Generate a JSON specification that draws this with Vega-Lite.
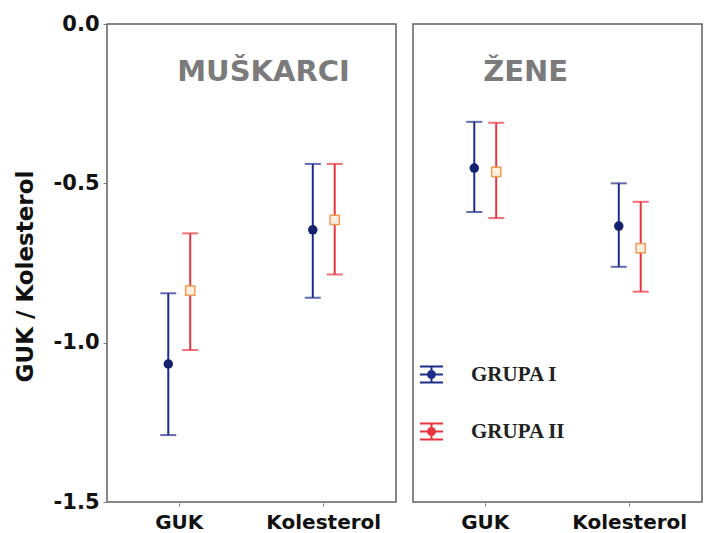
{
  "$schema": "https://vega.github.io/schema/vega-lite/v6.json",
  "padding": {"left": 14, "top": 13, "right": 0, "bottom": 0},
  "background": "white",
  "data": {"values": [
    {"sex": "MUŠKARCI", "cat": "GUK", "group": "GRUPA I", "mean": -1.067, "lo": -1.29, "hi": -0.845},
    {"sex": "MUŠKARCI", "cat": "GUK", "group": "GRUPA II", "mean": -0.837, "lo": -1.023, "hi": -0.657},
    {"sex": "MUŠKARCI", "cat": "Kolesterol", "group": "GRUPA I", "mean": -0.646, "lo": -0.859, "hi": -0.439},
    {"sex": "MUŠKARCI", "cat": "Kolesterol", "group": "GRUPA II", "mean": -0.615, "lo": -0.786, "hi": -0.439},
    {"sex": "ŽENE", "cat": "GUK", "group": "GRUPA I", "mean": -0.452, "lo": -0.59, "hi": -0.307},
    {"sex": "ŽENE", "cat": "GUK", "group": "GRUPA II", "mean": -0.464, "lo": -0.609, "hi": -0.31},
    {"sex": "ŽENE", "cat": "Kolesterol", "group": "GRUPA I", "mean": -0.634, "lo": -0.762, "hi": -0.5},
    {"sex": "ŽENE", "cat": "Kolesterol", "group": "GRUPA II", "mean": -0.703, "lo": -0.84, "hi": -0.558}
  ]},
  "facet": {"column": {"field": "sex", "type": "nominal", "sort": ["MUŠKARCI", "ŽENE"], "header": {"title": null, "labels": false}}},
  "spacing": 15,
  "spec": {
    "width": 289,
    "height": 478,
    "encoding": {
      "x": {"field": "cat", "type": "nominal", "sort": ["GUK", "Kolesterol"],
        "scale": {"type": "band", "paddingInner": 0.6966, "paddingOuter": 0.3483},
        "axis": {"title": null, "labelAngle": 0, "labelFont": "DejaVu Sans", "labelFontWeight": "bold", "labelFontSize": 20, "labelColor": "#111", "tickSize": 3, "tickColor": "#777", "domain": false, "labelPadding": 6}}
    },
    "layer": [
      {
        "mark": {"type": "rule", "strokeWidth": 2},
        "encoding": {
          "xOffset": {"field": "group", "type": "nominal", "scale": {"type": "point", "padding": 0.5}},
          "y": {"field": "lo", "type": "quantitative", "scale": {"domain": [-1.5, 0], "nice": false, "zero": false},
            "axis": {"title": "GUK / Kolesterol", "titleY": 252, "values": [0, -0.5, -1, -1.5], "labelExpr": "datum.value == 0 ? '0.0' : '-' + format(abs(datum.value), '.1f')", "labelFlush": false, "labelOverlap": false, "grid": false, "domain": false, "labelFont": "DejaVu Sans", "labelFontWeight": "bold", "labelFontSize": 21, "labelColor": "#111", "tickSize": 3, "tickColor": "#777", "labelPadding": 4, "titleFont": "DejaVu Sans", "titleFontWeight": "bold", "titleFontSize": 23, "titleColor": "#111", "titlePadding": 16}},
          "y2": {"field": "hi"},
          "color": {"field": "group", "type": "nominal", "scale": {"domain": ["GRUPA I", "GRUPA II"], "range": ["#1c2d8c", "#e8343c"]},
            "legend": {"orient": "none", "legendX": 312, "legendY": 338, "title": null,
              "symbolType": "M-1,-0.7H1M-1,0.7H1M0,-0.7V0.7M-1,0H1M0.3,0A0.3,0.3 0 1,1 -0.3,0A0.3,0.3 0 1,1 0.3,0Z",
              "symbolSize": 529, "symbolStrokeWidth": 2, "labelFont": "Liberation Serif", "labelFontWeight": "bold", "labelFontSize": 21, "labelColor": "#222", "rowPadding": 32, "labelOffset": 27,
              "encode": {"symbols": {"update": {"shape": {"value": "M-1,-0.7H1M-1,0.7H1M0,-0.7V0.7M-1,0H1M0.3,0A0.3,0.3 0 1,1 -0.3,0A0.3,0.3 0 1,1 0.3,0Z"}, "fill": {"signal": "datum.value === 'GRUPA I' ? '#13216e' : '#fdf0e0'"}, "fillOpacity": {"value": 1}, "opacity": {"value": 1}}}}}}
        }
      },
      {
        "mark": {"type": "tick", "thickness": 2, "size": 16},
        "encoding": {
          "xOffset": {"field": "group", "type": "nominal"},
          "y": {"field": "lo", "type": "quantitative"},
          "color": {"field": "group", "type": "nominal"}
        }
      },
      {
        "mark": {"type": "tick", "thickness": 2, "size": 16},
        "encoding": {
          "xOffset": {"field": "group", "type": "nominal"},
          "y": {"field": "hi", "type": "quantitative"},
          "color": {"field": "group", "type": "nominal"}
        }
      },
      {
        "transform": [{"filter": "datum.group === 'GRUPA I'"}],
        "mark": {"type": "point", "shape": "circle", "filled": true, "size": 90, "color": "#13216e", "opacity": 1},
        "encoding": {
          "xOffset": {"field": "group", "type": "nominal", "scale": {"domain": ["GRUPA I", "GRUPA II"]}},
          "y": {"field": "mean", "type": "quantitative"}
        }
      },
      {
        "transform": [{"filter": "datum.group === 'GRUPA II'"}],
        "mark": {"type": "point", "shape": "square", "filled": false, "size": 85, "fill": "#fdf0e0", "stroke": "#f39a55", "strokeWidth": 1.5, "opacity": 1, "fillOpacity": 1},
        "encoding": {
          "xOffset": {"field": "group", "type": "nominal"},
          "y": {"field": "mean", "type": "quantitative"}
        }
      },
      {
        "transform": [{"filter": "datum.cat === 'GUK' && datum.group === 'GRUPA I'"}],
        "mark": {"type": "text", "align": "left", "baseline": "middle", "font": "DejaVu Sans", "fontWeight": "bold", "fontSize": 29, "color": "#7b7b7b", "dx": -2},
        "encoding": {
          "y": {"datum": -0.15, "type": "quantitative"},
          "text": {"field": "sex"}
        }
      }
    ]
  },
  "config": {"view": {"stroke": "#606060", "strokeWidth": 1.5}}
}
